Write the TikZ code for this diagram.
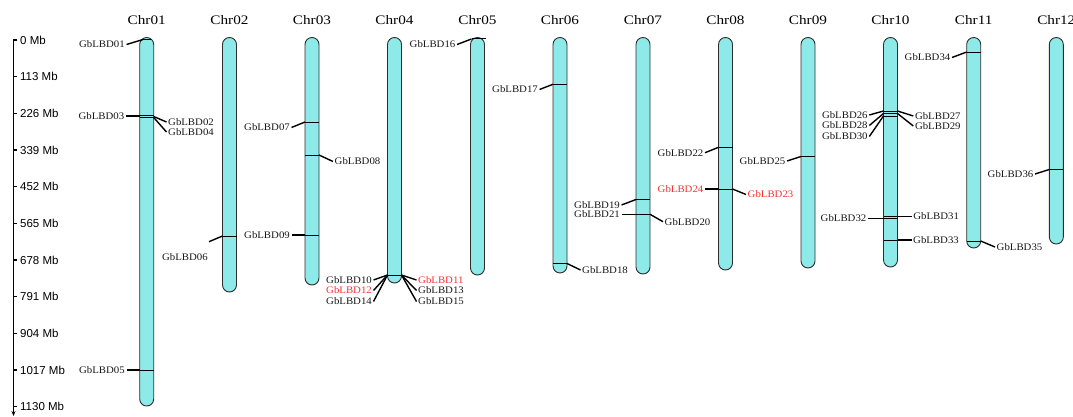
\documentclass[tikz,border=0pt]{standalone}
\usepackage{fontspec}
\setmainfont{Liberation Serif}
\newfontfamily\lblfont[FakeStretch=1.08]{Liberation Serif}
\newfontfamily\ttlfont[FakeStretch=1.17]{Liberation Serif}
\newfontfamily\axfont{Liberation Sans}
\usetikzlibrary{arrows.meta}
\definecolor{chrfill}{RGB}{142,234,232}
\definecolor{chrline}{RGB}{45,45,45}
\definecolor{lbdred}{RGB}{250,50,50}
\tikzset{
 chrom/.style={draw=chrline, line width=0.9pt, fill=chrfill, rounded corners=7pt, minimum width=14pt, inner sep=0pt, outer sep=0pt},
 mk/.style={line width=0.9pt, black},
 conn/.style={line width=1.4pt, black},
 lbl/.style={font=\lblfont\fontsize{10}{12}\selectfont, inner sep=1.5pt, text=black!90},
 redlbl/.style={lbl, text=lbdred},
 ttl/.style={font=\ttlfont\fontsize{13}{15}\selectfont, inner sep=0pt},
 axl/.style={font=\axfont\fontsize{11.5}{13}\selectfont, anchor=west, inner sep=0pt},
}
\newcommand\chromo[5]{%
 \node[chrom, minimum height={(#4-#3)*1pt}] (#1) at (#2,{(#3+#4)/2}) {};
 \node[ttl] (#1t) at (#2,20) {#5};}
\newcommand\mkr[2]{\draw[mk] ({#1-7},#2) -- ({#1+7},#2);}
\begin{document}
\begin{tikzpicture}[x=1pt,y=-1pt]
\useasboundingbox (0,0) rectangle (1073,417);
% axis
\coordinate (atop) at (13.5,40);
\coordinate (aend) at (13.5,416);
\draw[line width=1.2pt, -{Stealth[length=5pt,width=4pt]}] (17,40) -- (atop) -- (aend);
\foreach \v [count=\i from 0] in {0,113,226,339,452,565,678,791,904,1017,1130}{
  \draw[line width=1.2pt] (13.5,{40+\i*36.67}) -- (16.5,{40+\i*36.67});
  \node[axl] (ax\i) at (20,{40+\i*36.67}) {\v\ Mb};
}
% chromosomes
\chromo{c1}{146.7}{37.5}{406}{Chr01}
\chromo{c2}{229.5}{37.5}{292}{Chr02}
\chromo{c3}{312}{37.5}{285}{Chr03}
\chromo{c4}{394.5}{37.5}{283}{Chr04}
\chromo{c5}{477.5}{37.5}{275}{Chr05}
\chromo{c6}{560}{37.5}{273}{Chr06}
\chromo{c7}{643}{37.5}{274}{Chr07}
\chromo{c8}{725.5}{37.5}{270}{Chr08}
\chromo{c9}{808}{37.5}{268}{Chr09}
\chromo{c10}{890.5}{37.5}{267}{Chr10}
\chromo{c11}{973.7}{37.5}{248}{Chr11}
\chromo{c12}{1056.3}{37.5}{244}{Chr12}
% Chr01
\draw[mk] (142.5,39.5) -- (151,39.5);
\mkr{146.7}{115}\mkr{146.7}{117.5}\mkr{146.7}{370}
\node[lbl, anchor=east] (g01) at (126.5,44.5) {GbLBD01};
\coordinate (m01) at (143,39.5); \draw[conn] (g01.east) -- (m01);
\node[lbl, anchor=east] (g03) at (126,116) {GbLBD03};
\coordinate (m03) at (139.7,116); \draw[conn] (g03.east) -- (m03);
\node[lbl, anchor=west] (g02) at (166.5,122) {GbLBD02};
\coordinate (m02) at (153.7,116.5); \draw[conn] (m02) -- (g02.west);
\node[lbl, anchor=west] (g04) at (166.5,132) {GbLBD04};
\coordinate (m04) at (153.7,117.5); \draw[conn] (m04) -- (g04.west);
\node[lbl, anchor=east] (g05) at (126.5,370) {GbLBD05};
\coordinate (m05) at (139.7,370); \draw[conn] (g05.east) -- (m05);
% Chr02
\mkr{229.5}{236}
\node[lbl] (g06) at (185,257) {GbLBD06};
\coordinate (g06e) at (209,241.7); \coordinate (m06) at (222.5,236);
\draw[conn] (g06e) -- (m06);
% Chr03
\mkr{312}{122}\mkr{312}{155}\mkr{312}{235}
\node[lbl, anchor=east] (g07) at (291.5,127.5) {GbLBD07};
\coordinate (m07) at (305,122); \draw[conn] (g07.east) -- (m07);
\node[lbl, anchor=west] (g08) at (333,161.5) {GbLBD08};
\coordinate (m08) at (319,155); \draw[conn] (m08) -- (g08.west);
\node[lbl, anchor=east] (g09) at (291.5,235) {GbLBD09};
\coordinate (m09) at (305,235); \draw[conn] (g09.east) -- (m09);
% Chr04
\mkr{394.5}{275}
\coordinate (m4L) at (387.5,275); \coordinate (m4R) at (401.5,275);
\node[lbl, anchor=east] (g10) at (373.5,280) {GbLBD10};
\node[redlbl, anchor=east] (g12) at (373.5,290.5) {GbLBD12};
\node[lbl, anchor=east] (g14) at (373.5,301.5) {GbLBD14};
\node[redlbl, anchor=west] (g11) at (416.5,280) {GbLBD11};
\node[lbl, anchor=west] (g13) at (416.5,290.5) {GbLBD13};
\node[lbl, anchor=west] (g15) at (416.5,301.5) {GbLBD15};
\draw[conn] (g10.east) -- (m4L);
\draw[conn] (g12.east) -- (m4L);
\draw[conn] (g14.east) -- (m4L);
\draw[conn] (m4R) -- (g11.west);
\draw[conn] (m4R) -- (g13.west);
\draw[conn] (m4R) -- (g15.west);
% Chr05
\draw[mk] (472,38.5) -- (485.5,38.5);
\node[lbl, anchor=east] (g16) at (457,44.5) {GbLBD16};
\coordinate (m16) at (471.5,39); \draw[conn] (g16.east) -- (m16);
% Chr06
\mkr{560}{84.3}\mkr{560}{263.5}
\node[lbl, anchor=east] (g17) at (539.5,89.5) {GbLBD17};
\coordinate (m17) at (553,84.3); \draw[conn] (g17.east) -- (m17);
\node[lbl, anchor=west] (g18) at (580.5,270) {GbLBD18};
\coordinate (m18) at (567,263.5); \draw[conn] (m18) -- (g18.west);
% Chr07
\mkr{643}{199.5}\mkr{643}{214.3}
\node[lbl, anchor=east] (g19) at (621.5,205) {GbLBD19};
\coordinate (m19) at (636,199.5); \draw[conn] (g19.east) -- (m19);
\node[lbl, anchor=east] (g21) at (621.5,214.3) {GbLBD21};
\coordinate (m21) at (636,214.3); \draw[conn] (g21.east) -- (m21);
\node[lbl, anchor=west] (g20) at (663,221.7) {GbLBD20};
\coordinate (m20) at (650,214.3); \draw[conn] (m20) -- (g20.west);
% Chr08
\mkr{725.5}{147.3}\mkr{725.5}{189}
\node[lbl, anchor=east] (g22) at (705,152.7) {GbLBD22};
\coordinate (m22) at (718.5,147.3); \draw[conn] (g22.east) -- (m22);
\node[redlbl, anchor=east] (g24) at (705,189) {GbLBD24};
\coordinate (m24) at (718.5,189); \draw[conn] (g24.east) -- (m24);
\node[redlbl, anchor=west] (g23) at (746,194.5) {GbLBD23};
\coordinate (m23) at (732.5,189); \draw[conn] (m23) -- (g23.west);
% Chr09
\mkr{808}{156.5}
\node[lbl, anchor=east] (g25) at (787,161) {GbLBD25};
\coordinate (m25) at (801,156.5); \draw[conn] (g25.east) -- (m25);
% Chr10
\mkr{890.5}{111}\mkr{890.5}{113.5}\mkr{890.5}{116}
\mkr{890.5}{216.5}\mkr{890.5}{218.5}\mkr{890.5}{240}
\coordinate (m26) at (883.5,111); \coordinate (m28) at (883.5,113.5); \coordinate (m30) at (883.5,116);
\coordinate (m27) at (897.5,111); \coordinate (m29) at (897.5,113.5);
\node[lbl, anchor=east] (g26) at (869.3,115) {GbLBD26};
\node[lbl, anchor=east] (g28) at (869.3,125.5) {GbLBD28};
\node[lbl, anchor=east] (g30) at (869.3,136.5) {GbLBD30};
\node[lbl, anchor=west] (g27) at (913.3,116) {GbLBD27};
\node[lbl, anchor=west] (g29) at (913.3,126) {GbLBD29};
\draw[conn] (g26.east) -- (m26);
\draw[conn] (g28.east) -- (m28);
\draw[conn] (g30.east) -- (m30);
\draw[conn] (m27) -- (g27.west);
\draw[conn] (m29) -- (g29.west);
\node[lbl, anchor=east] (g32) at (868,218.5) {GbLBD32};
\coordinate (m32) at (883.5,218.5); \draw[conn] (g32.east) -- (m32);
\node[lbl, anchor=west] (g31) at (911.7,216.5) {GbLBD31};
\coordinate (m31) at (897.5,216.5); \draw[conn] (m31) -- (g31.west);
\node[lbl, anchor=west] (g33) at (911.5,240) {GbLBD33};
\coordinate (m33) at (897.5,240); \draw[conn] (m33) -- (g33.west);
% Chr11
\mkr{973.7}{52}\mkr{973.7}{241}
\node[lbl, anchor=east] (g34) at (952,57.5) {GbLBD34};
\coordinate (m34) at (966.7,52); \draw[conn] (g34.east) -- (m34);
\node[lbl, anchor=west] (g35) at (995,247) {GbLBD35};
\coordinate (m35) at (980.7,241); \draw[conn] (m35) -- (g35.west);
% Chr12
\mkr{1056.3}{169.5}
\node[lbl, anchor=east] (g36) at (1035,174) {GbLBD36};
\coordinate (m36) at (1049.3,169.5); \draw[conn] (g36.east) -- (m36);
\end{tikzpicture}
\end{document}
